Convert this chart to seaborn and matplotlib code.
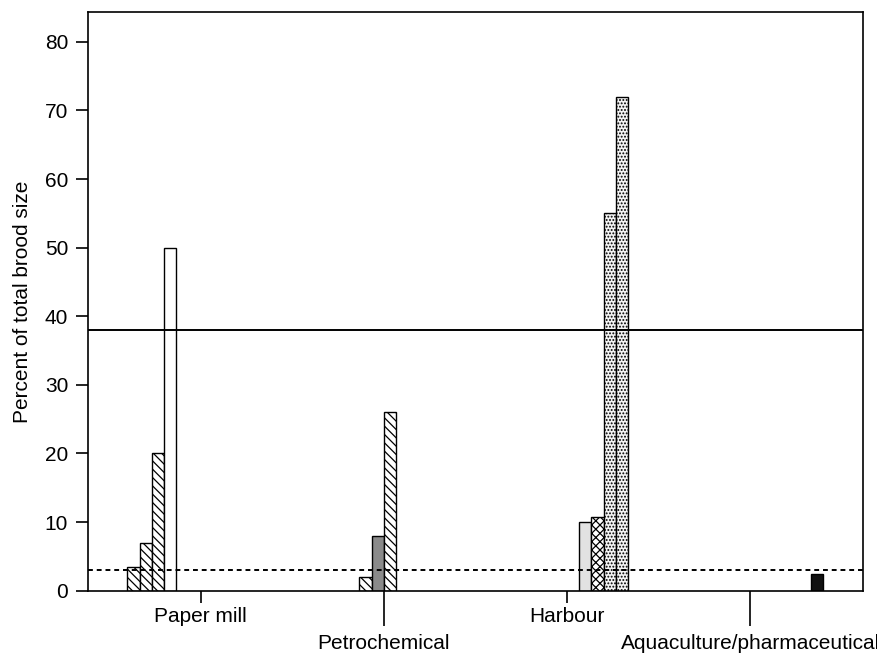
import numpy as np
import pandas as pd
import matplotlib
matplotlib.use("Agg")
import matplotlib.pyplot as plt
import seaborn as sns

# ---------------- data ----------------
categories = ["Paper mill", "Petrochemical", "Harbour", "Aquaculture/pharmaceutical"]
series = ["S1", "S2", "S3", "S4", "S5", "S6", "S7", "S8", "S9", "S10", "S11", "S12"]
bar_site = ["Paper mill", "Paper mill", "Paper mill", "Paper mill",
            "Petrochemical", "Petrochemical", "Petrochemical",
            "Harbour", "Harbour", "Harbour", "Harbour",
            "Aquaculture/pharmaceutical"]
bar_series = series
bar_values = [3.4, 7, 20, 50, 2, 8, 26, 10, 10.8, 55, 72, 2.5]
solid_ref = 38
dashed_ref = 3
yticks = [0, 10, 20, 30, 40, 50, 60, 70, 80]
ylabel = "Percent of total brood size"

# ---------------- style ----------------
sns.set_theme(style="ticks")
plt.rcParams["font.family"] = ["Liberation Sans", "DejaVu Sans"]
plt.rcParams["hatch.linewidth"] = 0.9
plt.rcParams["hatch.color"] = "black"

fig = plt.figure(figsize=(8.78, 6.54), dpi=100)
ax = fig.add_axes([88.3 / 878, 1 - 590.7 / 654, (862.7 - 88.3) / 878, (590.7 - 12.3) / 654])

df = pd.DataFrame({"site": bar_site, "series": bar_series, "value": bar_values})
sns.barplot(data=df, x="site", y="value", hue="series", order=categories,
            hue_order=series, dodge=True, width=0.8, errorbar=None,
            edgecolor="black", linewidth=1.0, legend=False, ax=ax)

diag = "\\" * 4
styles = [
    ("white", diag), ("white", diag), ("white", diag), ("white", ""),
    ("white", diag), ("#8a8a8a", ""), ("white", diag),
    ("#e2e2e2", ""), ("white", "xxxx"), ("#f4f4f4", "....."), ("#f4f4f4", "....."),
    ("#111111", ""),
]
for cont, (fc, h) in zip(ax.containers, styles):
    for p in cont.patches:
        p.set_facecolor(fc)
        p.set_hatch(h)
        p.set_edgecolor("black")

ax.axhline(solid_ref, color="black", lw=1.4, zorder=3)
ax.axhline(dashed_ref, color="black", lw=1.4, ls=(0, (2.5, 2)), zorder=3)

ax.set_xlim(-0.614, 3.615)
ax.set_ylim(0, 84.3)
ax.set_yticks(yticks)
ax.set_xlabel("")
ax.set_ylabel(ylabel, fontsize=15, labelpad=9, color="black")

for s in ax.spines.values():
    s.set_linewidth(1.2)
    s.set_color("black")
    s.set_visible(True)

ax.tick_params(axis="both", direction="out", length=8.5, width=1.2, color="black",
               labelsize=15, labelcolor="black")
ax.tick_params(axis="y", pad=6)
ax.tick_params(axis="x", pad=3.5)

for i, t in enumerate(ax.xaxis.get_major_ticks()):
    if i % 2 == 1:
        t.set_pad(22.5)
        t.tick1line.set_markersize(25)

fig.savefig("out.png", dpi=100)
